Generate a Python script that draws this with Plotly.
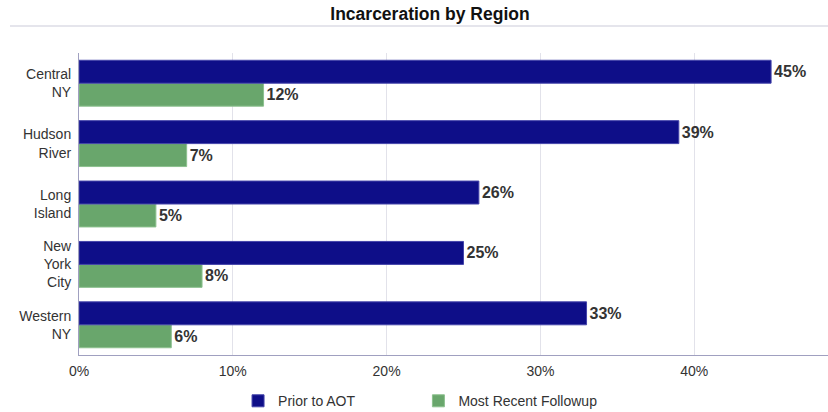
import plotly.graph_objects as go

regions = ["Central<br>NY", "Hudson<br>River", "Long<br>Island", "New<br>York<br>City", "Western<br>NY"]
prior_aot = [45, 39, 26, 25, 33]
recent_followup = [12, 7, 5, 8, 6]
tick_vals = [0, 10, 20, 30, 40]
tick_text = ["0%", "10%", "20%", "30%", "40%"]

# reversed so Central NY is on top
cats = regions[::-1]
prior = prior_aot[::-1]
recent = recent_followup[::-1]

label_font = dict(size=16, color="#333333", family="Liberation Sans, Arial, sans-serif")

fig = go.Figure()
# green first: in horizontal groups the first trace sits at the bottom
fig.add_trace(go.Bar(
    y=cats, x=recent, orientation="h", name="Most Recent Followup",
    marker=dict(color="#69a66c", line=dict(color="#8cc08e", width=1)),
    text=[f"<b>{v}%</b>" for v in recent], textposition="outside",
    textfont=label_font, cliponaxis=False,
))
fig.add_trace(go.Bar(
    y=cats, x=prior, orientation="h", name="Prior to AOT" + "\u00a0" * 15,
    marker=dict(color="#0e0e88", line=dict(color="#4444aa", width=1)),
    text=[f"<b>{v}%</b>" for v in prior], textposition="outside",
    textfont=label_font, cliponaxis=False,
))

fig.update_layout(
    width=828, height=412,
    barmode="group", bargap=0.24, bargroupgap=0.0,
    paper_bgcolor="white", plot_bgcolor="white",
    margin=dict(l=79, r=0, t=53, b=57, autoexpand=False),
    font=dict(family="Liberation Sans, Arial, sans-serif", size=14, color="#333333"),
    title=dict(text="<b>Incarceration by Region</b>", x=430 / 828, xref="container",
               y=1 - 14 / 412, yanchor="middle",
               font=dict(size=17.5, color="#111111")),
    legend=dict(orientation="h", x=0.456, xanchor="center", y=-0.1, yanchor="top",
                traceorder="reversed", font=dict(size=14, color="#333333"),
                itemwidth=30),
    showlegend=True,
)
fig.update_xaxes(
    range=[0, 48.7], tickvals=tick_vals, ticktext=tick_text,
    showgrid=True, gridcolor="#e2e2ea", gridwidth=1,
    showline=True, linecolor="#a0a0c0", linewidth=1,
    zeroline=False, ticks="", ticklabelstandoff=3, automargin=False,
)
fig.update_yaxes(
    showline=True, linecolor="#a0a0c0", linewidth=1, ticks="",
    ticklabelstandoff=4, automargin=False,
)
# thin rule under the title
fig.add_shape(type="line", xref="paper", yref="paper",
              x0=(10 - 79) / 749, x1=1, y0=1 + 27 / 302, y1=1 + 27 / 302,
              line=dict(color="#dcdce6", width=1.5))

fig.write_html("out.html", config={"displayModeBar": False},
               post_script="document.body.style.margin='0';")
